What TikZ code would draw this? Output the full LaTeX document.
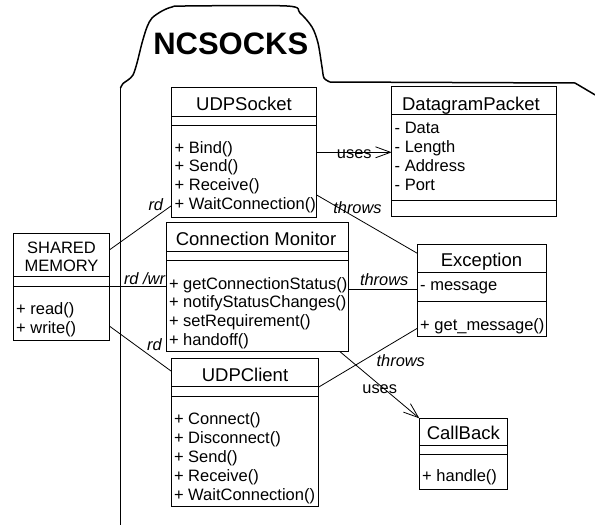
\documentclass[tikz,border=0pt]{standalone}
\usepackage{fontspec}
\setmainfont{Liberation Sans}
\usetikzlibrary{arrows.meta}

% class box: name, left, top, right, bottom, first and second separator
\newcommand\umlbox[7]{%
  \node[classbox, minimum width={(#4-#2)*1pt}, minimum height={(#5-#3)*1pt}] (#1) at (#2,#3) {};
  \draw[sepline] (#1.west |- 0,#6) -- (#1.east |- 0,#6);
  \draw[sepline] (#1.west |- 0,#7) -- (#1.east |- 0,#7);
}
% member list: name, x, first baseline, line spacing, entries
\newcommand\umlmembers[5]{%
  \foreach \m [count=\i from 0] in {#5}
    \node[member] (#1-m\i) at (#2,{#3+\i*#4}) {\m};
}

\begin{document}
\begin{tikzpicture}[x=1pt,y=-1pt,
  classbox/.style={draw, line width=1pt, inner sep=0, outer sep=0, anchor=north west},
  sepline/.style={line width=0.9pt},
  ctitle/.style={font=\fontsize{18.5}{20}\selectfont, inner sep=0, anchor=base},
  member/.style={font=\fontsize{16.5}{19}\selectfont, inner sep=0, anchor=base west},
  lbl/.style={font=\fontsize{16.4}{18}\selectfont, inner sep=0, anchor=base},
  ilbl/.style={font=\fontsize{16.4}{18}\selectfont\itshape, inner sep=0, anchor=base},
  link/.style={line width=0.8pt},
  uses/.style={link, -{Straight Barb[length=15pt,width=11pt]}},
  outline/.style={line width=1.5pt, line join=round}]
\useasboundingbox (0,0) rectangle (595,525);

% package outline
\draw[outline] (120.5,527) -- (120.5,88);
\draw[outline] plot[smooth, tension=.5] coordinates {(120.5,88) (123,83.5) (128,80) (133,75) (137,63) (142,43) (147,27) (152,18) (162,11) (172,7) (185,6) (287,6) (300,13) (312,27) (318,43) (322,67) (324,78) (330,82)};
\draw[outline] (330,82) -- (575,83) -- (597,96);
\node[font=\fontsize{31}{34}\selectfont\bfseries, inner sep=0] (pkg) at (230.8,44) {NCSOCKS};

% UDPSocket
\umlbox{udps}{171.7}{87.3}{316.7}{217.7}{116}{125}
\node[ctitle] (udps-t) at (244,110) {UDPSocket};
\umlmembers{udps}{174.5}{153.3}{18.6}{+ Bind(), + Send(), + Receive(), + WaitConnection()}

% DatagramPacket
\umlbox{dgp}{391.7}{86}{556.7}{216.7}{114}{200.7}
\node[ctitle] (dgp-t) at (471,110) {DatagramPacket};
\umlmembers{dgp}{394.5}{133.3}{18.9}{- Data, - Length, - Address, - Port}

% SHARED MEMORY
\umlbox{shm}{13.3}{233.3}{109.3}{340.7}{276.7}{286}
\node[member, anchor=base] (shm-t1) at (61.5,253.3) {SHARED};
\node[member, anchor=base] (shm-t2) at (61.5,271.7) {MEMORY};
\umlmembers{shm}{16}{314}{19.3}{+ read(), + write()}

% Connection Monitor
\umlbox{cmon}{166}{222.3}{348.3}{351.7}{251}{260}
\node[ctitle] (cmon-t) at (256,245.7) {Connection Monitor};
\umlmembers{cmon}{168.8}{289}{18.9}{+ getConnectionStatus(), + notifyStatusChanges(), + setRequirement(), + handoff()}

% Exception
\umlbox{exc}{417.3}{244}{546.7}{336}{272.3}{301}
\node[ctitle] (exc-t) at (481.5,266.7) {Exception};
\node[member] (exc-a) at (420,290.7) {- message};
\node[member] (exc-m) at (420,330.7) {+ get\_message()};

% UDPClient
\umlbox{udpc}{171}{358.3}{318.3}{506.7}{386.7}{396}
\node[ctitle] (udpc-t) at (245,381.7) {UDPClient};
\umlmembers{udpc}{173.8}{424.3}{19.1}{+ Connect(), + Disconnect(), + Send(), + Receive(), + WaitConnection()}

% CallBack
\umlbox{cb}{419.3}{418.3}{507.3}{489.3}{445}{454}
\node[ctitle] (cb-t) at (463.3,439) {CallBack};
\node[member] (cb-m) at (422,481.7) {+ handle()};

% associations
\draw[uses] (udps.east |- 0,152.3) -- (dgp.west |- 0,152.3);
\node[lbl] (l-uses1) at (354.3,158.3) {uses};
\draw[link] (udps.east |- 0,195) -- (exc.west |- 0,253.3);
\node[ilbl] (l-thr1) at (357.5,213.3) {throws};
\draw[link] (cmon.east |- 0,289.3) -- (exc.west |- 0,289.3);
\node[ilbl] (l-thr2) at (384.2,285) {throws};
\draw[link] (udpc.east |- 0,387.3) -- (exc.west |- 0,328.3);
\node[ilbl] (l-thr3) at (400.8,366.7) {throws};
\draw[uses] (cmon.south -| 340,0) -- (cb.north west);
\node[lbl] (l-uses2) at (379.7,393.3) {uses};
\draw[link] (shm.east |- 0,250) -- (udps.west |- 0,205.5);
\node[ilbl] (l-rd1) at (155.8,210) {rd};
\draw[link] (shm.east |- 0,286.3) -- (cmon.west |- 0,286.3);
\node[ilbl] (l-rdwr) at (144.5,284.3) {rd /wr};
\draw[link] (shm.east |- 0,326) -- (udpc.west |- 0,371);
\node[ilbl] (l-rd2) at (154.5,350) {rd};
\end{tikzpicture}
\end{document}
